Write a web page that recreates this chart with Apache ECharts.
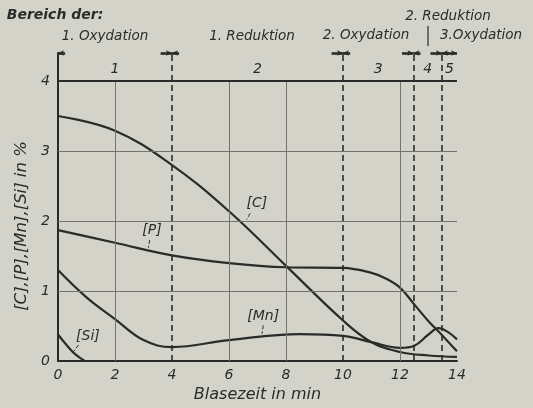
<!DOCTYPE html>
<html>
<head>
<meta charset="utf-8">
<script src="https://cdn.jsdelivr.net/npm/echarts@6/dist/echarts.min.js"></script>
<style>
  html, body { margin: 0; padding: 0; background: #d3d3ca; }
  #chart { width: 533px; height: 408px; }
</style>
</head>
<body>
<div id="chart"></div>
<script>
// Blowing time in minutes and element contents in % for each curve
const timeC  = [0, 2, 4, 6, 8, 10, 11, 12, 13, 14];
const valC   = [3.5, 3.29, 2.8, 2.14, 1.36, 0.58, 0.27, 0.13, 0.08, 0.06];

const timeP  = [0, 2, 4, 6, 8, 10, 11, 11.5, 12, 12.5, 13, 13.5, 14];
const valP   = [1.87, 1.69, 1.51, 1.4, 1.34, 1.33, 1.26, 1.18, 1.05, 0.81, 0.57, 0.36, 0.14];

const timeMn = [0, 1, 2, 3, 4, 6, 8.5, 10, 11, 12, 12.5, 13, 13.35, 13.7, 14];
const valMn  = [1.3, 0.91, 0.6, 0.3, 0.2, 0.3, 0.385, 0.36, 0.27, 0.19, 0.22, 0.38, 0.47, 0.41, 0.31];

const timeSi = [0, 0.3, 0.6, 0.95];
const valSi  = [0.38, 0.23, 0.1, 0];

// Process stage boundaries (min) and the stage numbers between them
const stageBounds = [0, 4, 10, 12.47, 13.47, 14];
const stageNames  = ['1', '2', '3', '4', '5'];

// Axis ticks
const xTicks = [0, 2, 4, 6, 8, 10, 12, 14];
const yTicks = [0, 1, 2, 3, 4];
const solidGridX = [2, 6, 8, 12];
const bandTop = 4.4;

const ink = '#2b2b29';
const gridInk = '#74746d';
const font = "'DejaVu Sans', sans-serif";

const zip = (xs, ys) => xs.map((x, i) => [x, ys[i]]);

// Curve labels with their leader strokes: [text, label x, label y, leader from, leader to]
const curveLabels = [
  ['[C]',  6.98, 2.25, [6.74, 2.11], [6.62, 2.02]],
  ['[P]',  3.3,  1.86, [3.22, 1.73], [3.17, 1.62]],
  ['[Mn]', 7.2,  0.64, [7.2, 0.51],  [7.16, 0.39]],
  ['[Si]', 1.05, 0.36, [0.72, 0.23], [0.55, 0.14]]
];

const thinLine = { color: gridInk, width: 1, type: 'solid' };
const heavyLine = { color: ink, width: 1.8, type: 'solid' };

const frameLines = [];
// vertical grid lines (solid) inside the diagram
solidGridX.forEach(x => frameLines.push([{ coord: [x, 0], lineStyle: thinLine }, { coord: [x, 4] }]));
// horizontal grid lines
[1, 2, 3].forEach(y => frameLines.push([{ coord: [0, y], lineStyle: thinLine }, { coord: [14, y] }]));
frameLines.push([{ coord: [0, 4], lineStyle: heavyLine }, { coord: [14, 4] }]);
// top dimension line of the stage band
frameLines.push([{ coord: [0, bandTop], lineStyle: heavyLine }, { coord: [14.4, bandTop] }]);
// frame verticals
frameLines.push([{ coord: [0, bandTop], lineStyle: heavyLine }, { coord: [0, 4.49] }]);
frameLines.push([{ coord: [14, 0], lineStyle: heavyLine }, { coord: [14, 4.49] }]);
// dashed stage boundaries
stageBounds.slice(1, -1).forEach(b => frameLines.push([
  { coord: [b, 0], lineStyle: { color: ink, width: 1.6, type: [6, 4] } },
  { coord: [b, bandTop] }
]));
// arrow tips on the dimension line pointing to each boundary
stageBounds.forEach((b, i) => {
  const arrow = { color: ink, width: 2.6, type: 'solid' };
  if (i > 0) frameLines.push([
    { coord: [b - 0.4, bandTop], lineStyle: arrow, symbol: 'none' },
    { coord: [b, bandTop], symbol: 'arrow', symbolSize: [4, 6] }
  ]);
  if (i < stageBounds.length - 1) frameLines.push([
    { coord: [b + 0.25, bandTop], lineStyle: arrow, symbol: 'none' },
    { coord: [b, bandTop], symbol: 'arrow', symbolSize: [4, 6] }
  ]);
});
// leader strokes from the curve labels
curveLabels.forEach(l => frameLines.push([
  { coord: l[3], lineStyle: { color: ink, width: 1 } }, { coord: l[4] }
]));

const stageMarks = stageNames.map((n, i) => ({
  coord: [(stageBounds[i] + stageBounds[i + 1]) / 2, 4.17],
  value: n
}));
const labelMarks = curveLabels.map(l => ({ coord: [l[1], l[2]], value: l[0] }));

const textStyle = { fill: ink, fontFamily: font, fontStyle: 'italic', fontSize: 14 };
const headText = (txt, x, y, extra) => ({
  type: 'text', x, y,
  style: Object.assign({ text: txt, align: 'center', verticalAlign: 'middle' }, textStyle, extra || {})
});

const curve = (name, data) => ({
  name, type: 'line', data, symbol: 'none',
  smooth: 0.4,
  lineStyle: { color: ink, width: 2.2 },
  animation: false, z: 3
});

const chart = echarts.init(document.getElementById('chart'), null, { renderer: 'canvas' });
chart.setOption({
  backgroundColor: '#d3d3ca',
  animation: false,
  grid: { left: 58, right: 76, top: 53, bottom: 40 },
  xAxis: {
    type: 'value', min: 0, max: 14, interval: 2,
    axisLine: { lineStyle: { color: ink, width: 2 } },
    axisTick: { show: false },
    splitLine: { show: false },
    axisLabel: {
      color: ink, fontFamily: font, fontStyle: 'italic', fontSize: 14, margin: 7,
      formatter: v => (xTicks.includes(v) ? String(v) : '')
    },
    name: 'Blasezeit in min', nameLocation: 'middle', nameGap: 22,
    nameTextStyle: { color: ink, fontFamily: font, fontStyle: 'italic', fontSize: 16 }
  },
  yAxis: {
    type: 'value', min: 0, max: bandTop, interval: 1,
    axisLine: { show: true, lineStyle: { color: ink, width: 2 } },
    axisTick: { show: false },
    splitLine: { show: false },
    axisLabel: {
      color: ink, fontFamily: font, fontStyle: 'italic', fontSize: 14, margin: 8,
      formatter: v => (yTicks.includes(v) ? String(v) : '')
    }
  },
  graphic: [
    headText('Bereich der:', 55, 15, { fontWeight: 'bold', fontSize: 14 }),
    headText('1. Oxydation', 105, 36, { fontSize: 13.5 }),
    headText('1. Reduktion', 252, 36, { fontSize: 13.5 }),
    headText('2. Oxydation', 366, 35, { fontSize: 13.5 }),
    headText('2. Reduktion', 448, 16, { fontSize: 13.5 }),
    headText('3.Oxydation', 481, 35, { fontSize: 13.5 }),
    Object.assign(headText('[C],[P],[Mn],[Si] in %', 22, 226, { fontSize: 16.5 }), { rotation: Math.PI / 2 }),
    { type: 'line', shape: { x1: 428, y1: 26, x2: 428, y2: 46 }, style: { stroke: ink, lineWidth: 1.2 } }
  ],
  series: [
    {
      name: 'frame', type: 'line', data: [], clip: false, silent: true, z: 2,
      markLine: { silent: true, symbol: 'none', animation: false, label: { show: false }, data: frameLines },
      markPoint: {
        silent: true, animation: false, symbol: 'circle', symbolSize: 1,
        itemStyle: { color: 'rgba(0,0,0,0)' },
        label: { show: true, position: 'inside', formatter: '{c}', color: ink, fontFamily: font, fontStyle: 'italic', fontSize: 14 },
        data: stageMarks.concat(labelMarks)
      }
    },
    curve('[C]', zip(timeC, valC)),
    curve('[P]', zip(timeP, valP)),
    curve('[Mn]', zip(timeMn, valMn)),
    curve('[Si]', zip(timeSi, valSi))
  ]
});
</script>
</body>
</html>
